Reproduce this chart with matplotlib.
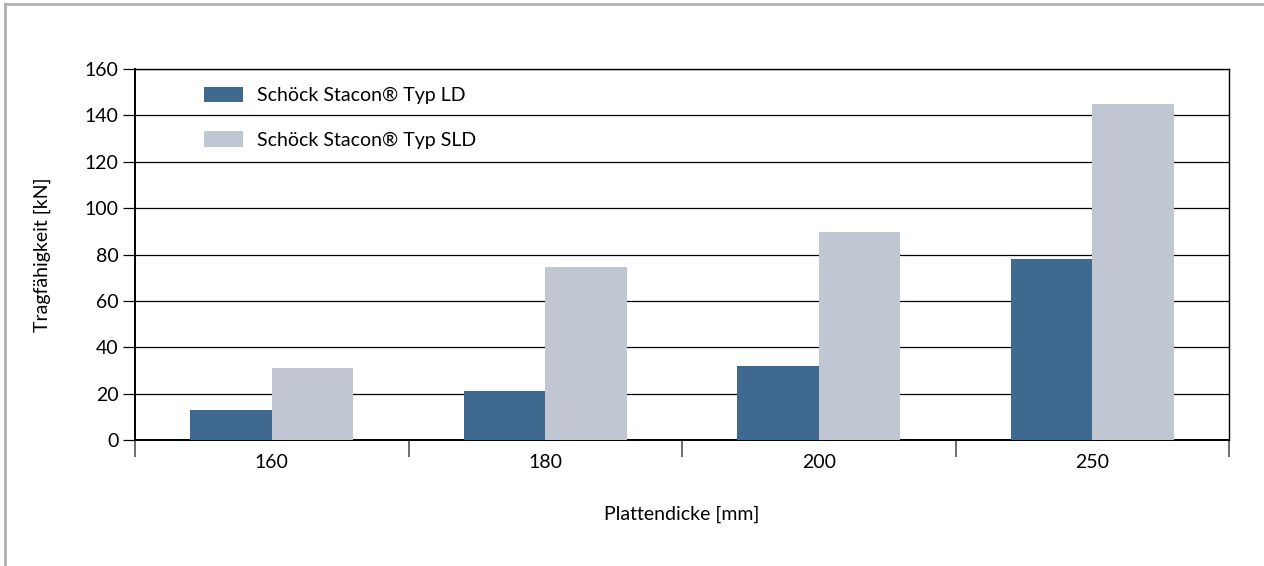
import numpy as np
import matplotlib
matplotlib.use("Agg")
import matplotlib.pyplot as plt
from matplotlib.lines import Line2D

plt.rcParams['font.family'] = ['Lato', 'DejaVu Sans']

# data
categories = ['160', '180', '200', '250']
typ_ld = [13, 21, 32, 78]
typ_sld = [31, 74.5, 89.5, 145]
series_names = ['Schöck Stacon® Typ LD', 'Schöck Stacon® Typ SLD']
y_ticks = [0, 20, 40, 60, 80, 100, 120, 140, 160]

col_ld = '#406990'
col_sld = '#c0c7d3'
fs = 14

fig = plt.figure(figsize=(12.64, 5.66), dpi=100)
ax = fig.add_axes([135/1264, 1 - 440/566, 1094/1264, 371/566])

x = np.arange(len(categories))
w = 0.298
ax.bar(x - w/2, typ_ld, w, color=col_ld, label=series_names[0], zorder=3)
ax.bar(x + w/2, typ_sld, w, color=col_sld, label=series_names[1], zorder=3)

ax.set_xlim(-0.5, len(categories) - 0.5)
ax.set_ylim(0, 160)
ax.set_yticks(y_ticks)
ax.yaxis.grid(True, color='black', linewidth=0.9, zorder=1)
ax.tick_params(axis='y', direction='out', length=9, width=0.9, labelsize=fs, pad=3)

# category labels in the middle, tick marks on the boundaries
ax.set_xticks(x)
ax.set_xticklabels(categories)
ax.tick_params(axis='x', length=0, labelsize=fs, pad=10)
ax.set_xticks(np.arange(len(categories) + 1) - 0.5, minor=True)
ax.tick_params(axis='x', which='minor', direction='out', length=12, width=1.2, color='#555555')

for s in ['left', 'right', 'top', 'bottom']:
    ax.spines[s].set_color('black')
    ax.spines[s].set_linewidth(1.0)
ax.spines['bottom'].set_linewidth(1.4)
ax.spines['left'].set_linewidth(1.4)

ax.set_ylabel('Tragfähigkeit [kN]', fontsize=fs, labelpad=24)
ax.set_xlabel('Plattendicke [mm]', fontsize=fs, labelpad=25)

ax.legend(loc='upper left', bbox_to_anchor=(0.047, 1.0), frameon=False,
          fontsize=fs, handlelength=2.0, handleheight=0.85,
          labelspacing=1.4, handletextpad=0.75)

# grey frame line on left and top of the figure
fig.add_artist(Line2D([5/1264, 5/1264], [0, 1 - 4/566], color='#b0b0b0', linewidth=2.0))
fig.add_artist(Line2D([5/1264, 1], [1 - 4/566, 1 - 4/566], color='#b0b0b0', linewidth=2.0))

fig.savefig('out.png', dpi=100, facecolor='white')
